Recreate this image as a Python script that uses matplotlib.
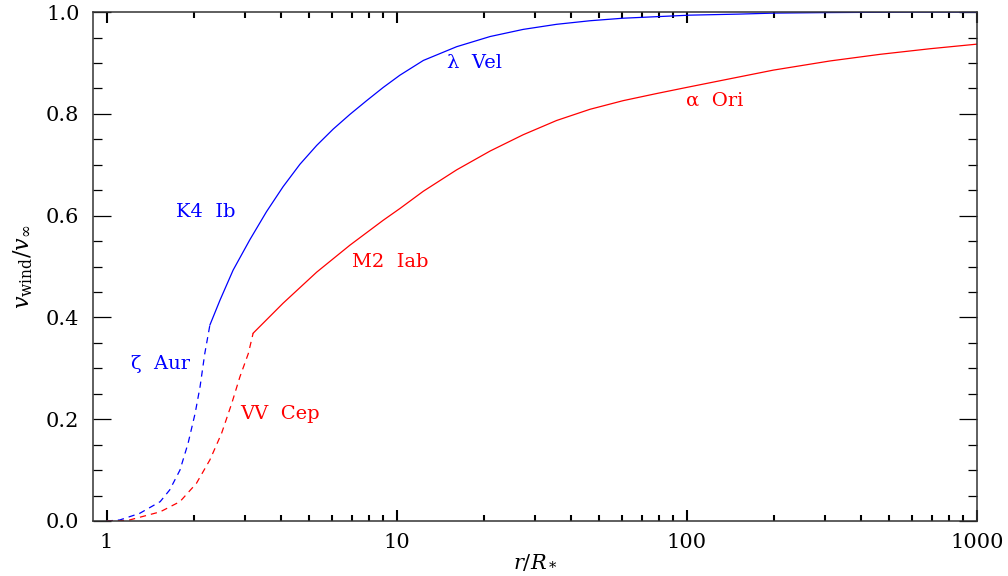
import matplotlib
matplotlib.use("Agg")
import matplotlib.pyplot as plt
from matplotlib.ticker import FixedLocator, FixedFormatter, MultipleLocator, NullFormatter

plt.rcParams["font.family"] = "DejaVu Serif"
plt.rcParams["mathtext.fontset"] = "dejavuserif"

# K4 Ib (zeta Aur / lambda Vel), blue
blue_dash_r = [1.00, 1.11, 1.30, 1.53, 1.65, 1.79, 1.91, 2.02, 2.10, 2.18, 2.27]
blue_dash_v = [0.000, 0.002, 0.015, 0.038, 0.061, 0.100, 0.153, 0.212, 0.264, 0.329, 0.385]
blue_r = [2.27, 2.46, 2.73, 3.12, 3.56, 4.06, 4.64, 5.30, 6.04, 6.90, 7.88, 8.99, 10.26,
          12.36, 16.1, 21.0, 27.3, 35.6, 46.4, 60.4, 78.8, 102.6, 150.0, 200.0, 300.0,
          600.0, 1000.0]
blue_v = [0.385, 0.434, 0.493, 0.553, 0.608, 0.657, 0.701, 0.738, 0.770, 0.799, 0.826, 0.852,
          0.876, 0.905, 0.932, 0.952, 0.966, 0.976, 0.983, 0.988, 0.991, 0.994, 0.996, 0.998,
          0.999, 1.000, 1.000]

# M2 Iab (VV Cep / alpha Ori), red
red_dash_r = [1.00, 1.08, 1.20, 1.53, 1.79, 2.04, 2.27, 2.49, 2.70, 2.88, 3.08, 3.20]
red_dash_v = [0.000, 0.000, 0.002, 0.018, 0.038, 0.074, 0.120, 0.172, 0.231, 0.283, 0.329, 0.369]
red_r = [3.20, 4.06, 5.30, 6.90, 8.99, 10.26, 12.36, 16.1, 21.0, 27.3, 35.6, 46.4, 60.4,
         78.8, 100.0, 141.0, 199.0, 312.0, 464.0, 690.0, 1000.0]
red_v = [0.369, 0.428, 0.489, 0.542, 0.591, 0.614, 0.648, 0.690, 0.727, 0.759, 0.787, 0.809,
         0.826, 0.840, 0.852, 0.869, 0.886, 0.904, 0.917, 0.928, 0.937]

x_ticks = [1, 10, 100, 1000]
x_tick_labels = ["1", "10", "100", "1000"]
x_minor = [2, 3, 4, 5, 6, 7, 8, 9, 20, 30, 40, 50, 60, 70, 80, 90,
           200, 300, 400, 500, 600, 700, 800, 900]


def main():
    fig = plt.figure(figsize=(10.08, 5.76), dpi=100)
    ax = fig.add_axes([0.0926, 0.0955, 0.8764, 0.8835])

    ax.plot(blue_dash_r, blue_dash_v, color="blue", lw=0.9, dashes=(5, 4))
    ax.plot(blue_r, blue_v, color="blue", lw=0.9)
    ax.plot(red_dash_r, red_dash_v, color="red", lw=0.9, dashes=(5, 4))
    ax.plot(red_r, red_v, color="red", lw=0.9)

    ax.set_xscale("log")
    ax.set_xlim(0.9, 1000)
    ax.set_ylim(0, 1.0)

    ax.xaxis.set_major_locator(FixedLocator(x_ticks))
    ax.xaxis.set_major_formatter(FixedFormatter(x_tick_labels))
    ax.xaxis.set_minor_locator(FixedLocator(x_minor))
    ax.xaxis.set_minor_formatter(NullFormatter())
    ax.yaxis.set_major_locator(MultipleLocator(0.2))
    ax.yaxis.set_minor_locator(MultipleLocator(0.05))
    ax.yaxis.set_major_formatter(plt.FuncFormatter(lambda v, p: f"{v:.1f}"))

    ax.tick_params(axis="x", which="both", direction="in", top=True, bottom=True,
                   color="black", width=1.5, labelsize=15)
    ax.tick_params(axis="x", which="major", length=8, pad=9)
    ax.tick_params(axis="x", which="minor", length=4.5)
    ax.tick_params(axis="y", which="both", direction="in", left=True, right=True,
                   color="black", width=0.9, labelsize=15)
    ax.tick_params(axis="y", which="major", length=12.7, pad=10)
    ax.tick_params(axis="y", which="minor", length=6.4)
    for s in ax.spines.values():
        s.set_linewidth(1.1)
        s.set_color("#333333")

    ax.set_xlabel(r"$r/R_*$", fontsize=15, labelpad=0)
    ax.set_ylabel(r"$v_{\rm wind}/v_\infty$", fontsize=16, labelpad=8)

    lab = dict(fontsize=14, ha="left", va="center")
    ax.text(14.9, 0.90, "λ  Vel", color="blue", **lab)
    ax.text(99.6, 0.827, "α  Ori", color="red", **lab)
    ax.text(1.73, 0.607, "K4  Ib", color="blue", **lab)
    ax.text(7.0, 0.509, "M2  Iab", color="red", **lab)
    ax.text(1.21, 0.308, "ζ  Aur", color="blue", **lab)
    ax.text(2.88, 0.21, "VV  Cep", color="red", **lab)

    fig.savefig("out.png", dpi=100)
    plt.close(fig)


if __name__ == "__main__":
    main()
